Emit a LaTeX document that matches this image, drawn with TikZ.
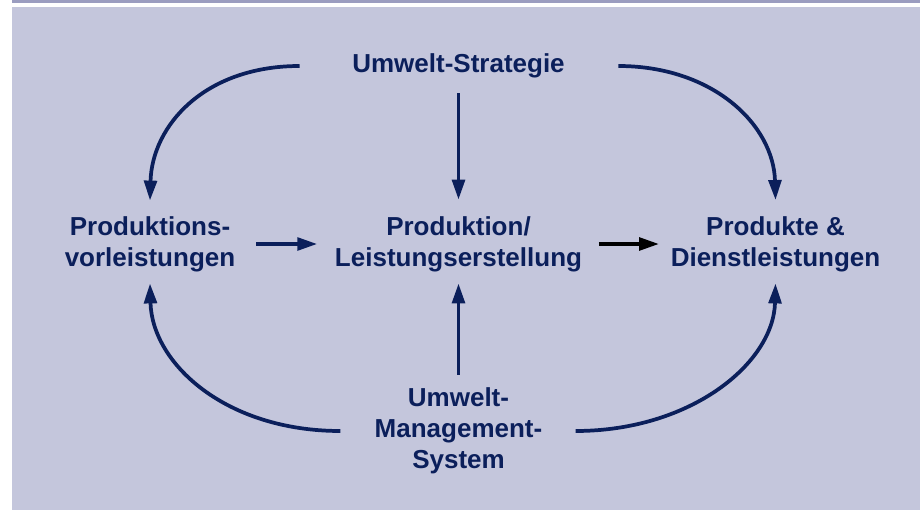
\documentclass[tikz,border=0pt]{standalone}
\usepackage{fontspec}
\setmainfont{Liberation Sans}
\usepackage{xcolor}
\usepackage{tikz}
\usetikzlibrary{arrows.meta}
\definecolor{navy}{HTML}{0B1F5B}
\definecolor{panel}{HTML}{C4C6DC}
\definecolor{topbar}{HTML}{9B9DC0}

\begin{document}
\begin{tikzpicture}[
  x=0.75pt,
  y=-0.75pt,
  lbl/.style={inner sep=0pt, align=center, text=navy,
    font=\fontsize{19.5}{23.25}\selectfont\bfseries},
  arr/.style={-{Triangle[length=15pt, width=9.5pt]}, line width=2.8pt, draw=navy},
  blackarr/.style={arr, draw=black}
]
  \useasboundingbox (0,0) rectangle (920,510);
  \fill[white] (0,0) rectangle (920,510);
  \fill[topbar] (12,0) rectangle (920,3);
  \fill[panel] (12,7) rectangle (920,510);

  % boxes of text
  \node[lbl] (strat) at (458.5,66) {Umwelt-Strategie};
  \node[lbl] (prod) at (458.5,244) {Produktion/\\Leistungserstellung};
  \node[lbl] (vor) at (150,244) {Produktions-\\vorleistungen};
  \node[lbl] (dienst) at (775.5,244) {Produkte \&\\Dienstleistungen};
  \node[lbl] (ums) at (458.5,431) {Umwelt-\\Management-\\System};

  % straight links
  \draw[arr, shorten <=11.25pt, shorten >=12.3pt] (strat.south) -- (prod.north);
  \draw[arr, shorten <=9.75pt, shorten >=8.6pt] (ums.north) -- (prod.south);
  \draw[arr, shorten <=15.4pt, shorten >=13.1pt] (vor.east) -- (prod.west);
  \draw[blackarr, shorten <=12.4pt, shorten >=8.6pt] (prod.east) -- (dienst.west);

  % curved links around the middle
  \draw[arr] ([xshift=-39.4pt]strat.west)
    .. controls +(-95,0) and +(2,-75) .. ([yshift=11.6pt]vor.north);
  \draw[arr] ([xshift=40pt]strat.east)
    .. controls +(95,0) and +(-2,-75) .. ([yshift=12pt]dienst.north);
  \draw[arr] ([xshift=-25.5pt]ums.west)
    .. controls +(-115,0) and +(2,80) .. ([yshift=-8.6pt]vor.south);
  \draw[arr] ([xshift=24.75pt]ums.east)
    .. controls +(115,0) and +(-2,80) .. ([yshift=-8.6pt]dienst.south);
\end{tikzpicture}
\end{document}
